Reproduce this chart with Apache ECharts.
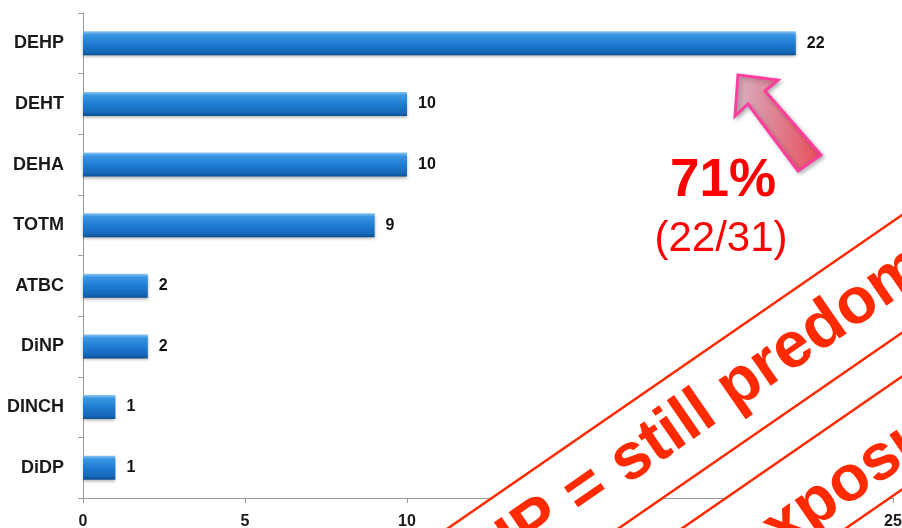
<!DOCTYPE html>
<html lang="en">
<head>
    <meta charset="UTF-8">
    <title>plasticizers</title>
    <script src="https://cdn.jsdelivr.net/npm/echarts@6/dist/echarts.min.js"></script>
    <style>
        html, body { margin: 0; padding: 0; background: #fff; }
    </style>
</head>
<body>
<div id="main" style="width: 902px;height:528px;"></div>
<script>
    // data
    let categories = ['DEHP', 'DEHT', 'DEHA', 'TOTM', 'ATBC', 'DiNP', 'DINCH', 'DiDP'];
    let counts = [22, 10, 10, 9, 2, 2, 1, 1];
    let xMin = 0, xMax = 25, xStep = 5;

    // stripe angle
    let ang = Math.atan(0.69);
    let red = '#ff2a00';
    let stampFont = 'bold 65px "Liberation Sans", Arial, sans-serif';

    function buildChart() {
        let chart = echarts.init(document.getElementById('main'));
        let option = {
            animation: false,
            grid: {left: 83, right: 9, top: 13, bottom: 30, containLabel: false, outerBoundsMode: 'none'},
            xAxis: {
                type: 'value',
                min: xMin,
                max: xMax,
                interval: xStep,
                splitLine: {show: false},
                axisLine: {show: true, lineStyle: {color: '#9a9a9a', width: 1}},
                axisTick: {show: true, length: 5, lineStyle: {color: '#9a9a9a'}},
                axisLabel: {
                    margin: 16,
                    color: '#1a1a1a',
                    fontWeight: 'bold',
                    fontSize: 16,
                    fontFamily: 'Liberation Sans'
                }
            },
            yAxis: {
                type: 'category',
                data: categories,
                inverse: true,
                axisLine: {show: true, lineStyle: {color: '#9a9a9a', width: 1}},
                axisTick: {show: true, length: 5, lineStyle: {color: '#9a9a9a'}},
                axisLabel: {
                    margin: 19,
                    color: '#1a1a1a',
                    fontWeight: 'bold',
                    fontSize: 18,
                    fontFamily: 'Liberation Sans'
                }
            },
            series: [{
                type: 'bar',
                data: counts,
                barWidth: 24,
                itemStyle: {
                    color: {
                        type: 'linear', x: 0, y: 0, x2: 0, y2: 1,
                        colorStops: [
                            {offset: 0, color: '#8cc6f4'},
                            {offset: 0.14, color: '#3a95e2'},
                            {offset: 0.5, color: '#1f7dd3'},
                            {offset: 0.86, color: '#1667b9'},
                            {offset: 1, color: '#0d4f92'}
                        ]
                    },
                    shadowColor: 'rgba(0,0,0,0.3)',
                    shadowBlur: 3,
                    shadowOffsetY: 2
                },
                label: {
                    show: true,
                    position: 'right',
                    distance: 11,
                    color: '#111',
                    fontWeight: 'bold',
                    fontSize: 16,
                    fontFamily: 'Liberation Sans'
                }
            }],
            graphic: [
                // pink arrow pointing at the DEHP bar
                {
                    type: 'polygon',
                    z: 50,
                    shape: {
                        points: [[738, 75], [778, 80], [765, 91], [821, 155], [798, 171], [748, 104], [735, 116]]
                    },
                    style: {
                        fill: {
                            type: 'linear', x: 0, y: 0, x2: 1, y2: 0,
                            colorStops: [
                                {offset: 0, color: '#d6b4c4'},
                                {offset: 1, color: '#ea4a58'}
                            ]
                        },
                        stroke: '#ff3ea0',
                        lineWidth: 3,
                        shadowColor: 'rgba(0,0,0,0.25)',
                        shadowBlur: 4,
                        shadowOffsetX: 2,
                        shadowOffsetY: 2
                    }
                },
                {
                    type: 'text',
                    z: 50,
                    style: {
                        text: '71%',
                        x: 723, y: 181,
                        align: 'center', verticalAlign: 'middle',
                        font: 'bold 53px "Liberation Sans", Arial, sans-serif',
                        fill: '#ff0000'
                    }
                },
                {
                    type: 'text',
                    z: 50,
                    style: {
                        text: '(22/31)',
                        x: 721, y: 239,
                        align: 'center', verticalAlign: 'middle',
                        font: '42px "Liberation Sans", Arial, sans-serif',
                        fill: '#ff0000'
                    }
                },
                // rotated stamp bands (white filled, cover the axis underneath)
                {
                    type: 'group',
                    x: 902, y: 215,
                    rotation: ang,
                    zlevel: 1,
                    children: [
                        {
                            type: 'rect',
                            z: 100,
                            zlevel: 1,
                            shape: {x: -1200, y: 0, width: 1400, height: 97},
                            style: {fill: '#ffffff', stroke: red, lineWidth: 2.5}
                        },
                        {
                            type: 'text',
                            z: 101,
                            zlevel: 1,
                            style: {
                                text: 'DEHP = still predominant',
                                x: -634, y: 48,
                                align: 'left', verticalAlign: 'middle',
                                font: stampFont,
                                fill: red
                            }
                        },
                        {
                            type: 'rect',
                            z: 100,
                            zlevel: 1,
                            shape: {x: -1200, y: 133, width: 1400, height: 93},
                            style: {fill: '#ffffff', stroke: red, lineWidth: 2.5}
                        },
                        {
                            type: 'text',
                            z: 101,
                            zlevel: 1,
                            style: {
                                text: 'exposure',
                                x: -327, y: 190,
                                align: 'left', verticalAlign: 'middle',
                                font: stampFont,
                                fill: red
                            }
                        }
                    ]
                }
            ]
        };
        chart.setOption(option);
    }

    buildChart();
</script>
</body>
</html>
